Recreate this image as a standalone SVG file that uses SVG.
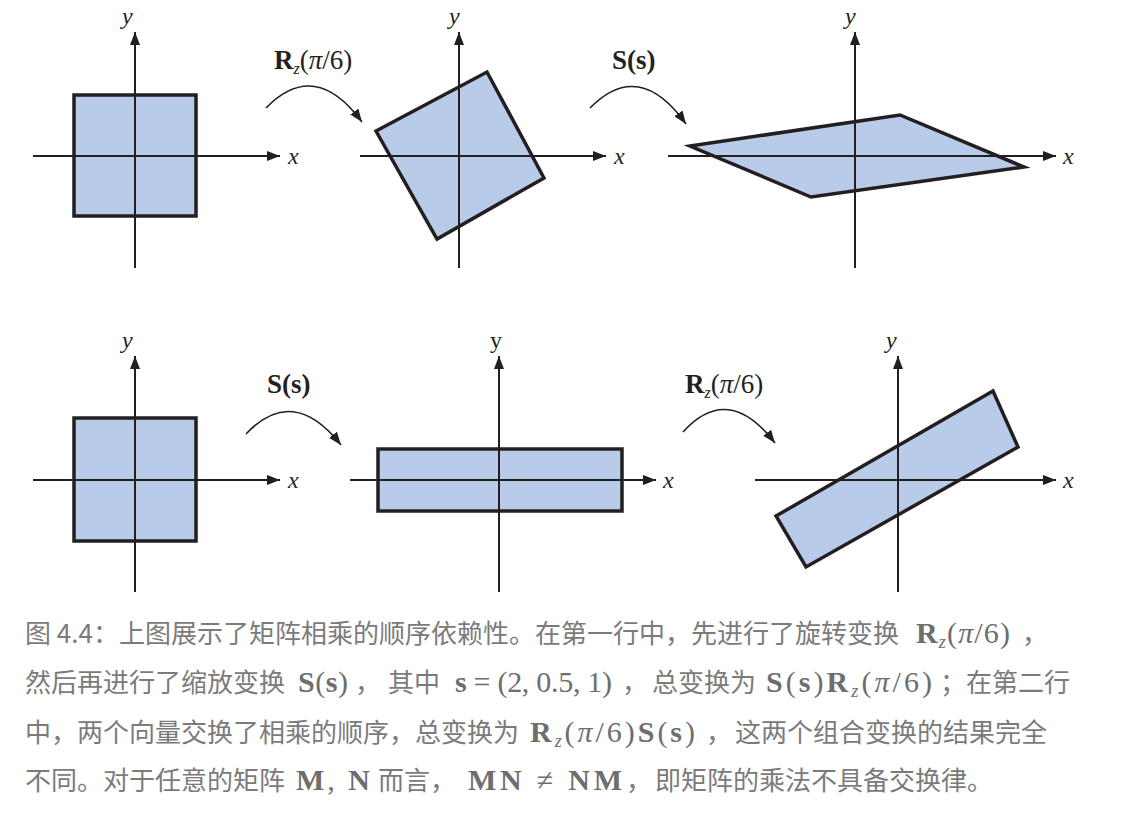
<svg xmlns="http://www.w3.org/2000/svg" width="1132" height="815" viewBox="0 0 1132 815">
<style>
.axis{stroke:#231f20;stroke-width:2;fill:none}
.shape{fill:#b8cbe8;stroke:#231f20;stroke-width:3.5;stroke-linejoin:miter}
.curve{stroke:#231f20;stroke-width:1.6;fill:none}
.lab{font-family:"Liberation Serif","Times New Roman",serif;font-size:27px;fill:#231f20}
.yl{font-family:"Liberation Serif","Times New Roman",serif;font-size:24px;fill:#231f20}
.ax{font-family:"Liberation Serif","Times New Roman",serif;font-size:24px;font-style:italic;fill:#231f20}
.cap{font-family:"Noto Sans CJK SC","Noto Sans",sans-serif;font-size:26px;fill:#7b7b7b}
.m{font-family:"Liberation Serif","Times New Roman",serif;font-size:30px;fill:#6e6e6e}
.b{font-weight:bold}
.i{font-style:italic}
</style>
<defs>
<marker id="ah" markerUnits="userSpaceOnUse" markerWidth="14" markerHeight="10" refX="13" refY="5" orient="auto">
<path d="M0,0 L13,5 L0,10 z" fill="#231f20"/>
</marker>
<marker id="ch" markerUnits="userSpaceOnUse" markerWidth="14" markerHeight="10" refX="13" refY="5" orient="auto">
<path d="M0,0 L13,5 L0,10 z" fill="#231f20"/>
</marker>
</defs>
<rect width="1132" height="815" fill="#ffffff"/>

<g id="panel1">
<rect class="shape" x="74" y="95" width="122" height="121"/>
<line class="axis" x1="135" y1="268" x2="135" y2="32" marker-end="url(#ah)"/>
<line class="axis" x1="33" y1="156" x2="280" y2="156" marker-end="url(#ah)"/>
<text class="ax" x="122" y="24">y</text>
<text class="ax" x="288" y="164">x</text>
</g>

<g id="panel2">
<polygon class="shape" points="376,131 487,72 544,178 437,239"/>
<line class="axis" x1="459" y1="268" x2="459" y2="32" marker-end="url(#ah)"/>
<line class="axis" x1="360" y1="156" x2="606" y2="156" marker-end="url(#ah)"/>
<text class="ax" x="449" y="24">y</text>
<text class="ax" x="614" y="164">x</text>
</g>

<g id="panel3">
<polygon class="shape" points="690,146 900,115 1024,167 811,197"/>
<line class="axis" x1="855" y1="268" x2="855" y2="32" marker-end="url(#ah)"/>
<line class="axis" x1="668" y1="156" x2="1056" y2="156" marker-end="url(#ah)"/>
<text class="ax" x="845" y="24">y</text>
<text class="ax" x="1063" y="164">x</text>
</g>

<g id="panel4">
<rect class="shape" x="74" y="418" width="122" height="123"/>
<line class="axis" x1="135" y1="592" x2="135" y2="356" marker-end="url(#ah)"/>
<line class="axis" x1="33" y1="480" x2="280" y2="480" marker-end="url(#ah)"/>
<text class="ax" x="122" y="348">y</text>
<text class="ax" x="288" y="488">x</text>
</g>

<g id="panel5">
<rect class="shape" x="378" y="449" width="244" height="62"/>
<line class="axis" x1="499" y1="592" x2="499" y2="356" marker-end="url(#ah)"/>
<line class="axis" x1="350" y1="480" x2="656" y2="480" marker-end="url(#ah)"/>
<text class="yl" x="490" y="348">y</text>
<text class="ax" x="663" y="488">x</text>
</g>

<g id="panel6">
<polygon class="shape" points="776,516 993,391 1018,447 806,567"/>
<line class="axis" x1="898" y1="592" x2="898" y2="356" marker-end="url(#ah)"/>
<line class="axis" x1="755" y1="480" x2="1056" y2="480" marker-end="url(#ah)"/>
<text class="ax" x="886" y="348">y</text>
<text class="ax" x="1063" y="488">x</text>
</g>

<g id="connectors">
<path class="curve" d="M266,108 Q315,58 362,122" marker-end="url(#ch)"/>
<path class="curve" d="M590,108 Q639,58 686,124" marker-end="url(#ch)"/>
<path class="curve" d="M246,434 Q293,384 341,445" marker-end="url(#ch)"/>
<path class="curve" d="M683,432 Q728,382 775,443" marker-end="url(#ch)"/>
<text class="lab" x="274" y="69"><tspan class="b">R</tspan><tspan class="i" font-size="16" dy="5">z</tspan><tspan dy="-5">(</tspan><tspan class="i">π</tspan>/6)</text>
<text class="lab" x="612" y="69"><tspan class="b">S(s)</tspan></text>
<text class="lab" x="267" y="393"><tspan class="b">S(s)</tspan></text>
<text class="lab" x="685" y="393"><tspan class="b">R</tspan><tspan class="i" font-size="16" dy="5">z</tspan><tspan dy="-5">(</tspan><tspan class="i">π</tspan>/6)</text>
</g>

<g id="caption">
<text class="cap" x="25" y="643">图 4.4：上图展示了矩阵相乘的顺序依赖性。在第一行中，先进行了旋转变换</text>
<text class="m" x="916" y="643" textLength="94" lengthAdjust="spacing"><tspan class="b">R</tspan><tspan class="i" font-size="18" dy="5">z</tspan><tspan dy="-5">(</tspan><tspan class="i">π</tspan>/6)</text>
<text class="cap" x="1022" y="643">，</text>

<text class="cap" x="25" y="692">然后再进行了缩放变换</text>
<text class="m" x="298" y="692" textLength="50" lengthAdjust="spacing"><tspan class="b">S</tspan>(<tspan class="b">s</tspan>)</text>
<text class="cap" x="355" y="692">，</text>
<text class="cap" x="388" y="692">其中</text>
<text class="m" x="455" y="692" textLength="157" lengthAdjust="spacing"><tspan class="b">s</tspan> = (2, 0.5, 1)</text>
<text class="cap" x="622" y="692">，</text>
<text class="cap" x="652" y="692">总变换为</text>
<text class="m" x="766" y="692" textLength="166" lengthAdjust="spacing"><tspan class="b">S</tspan>(<tspan class="b">s</tspan>)<tspan class="b">R</tspan><tspan class="i" font-size="18" dy="5">z</tspan><tspan dy="-5">(</tspan><tspan class="i">π</tspan>/6)</text>
<text class="cap" x="940" y="692">；</text>
<text class="cap" x="966" y="692">在第二行</text>

<text class="cap" x="25" y="742">中，两个向量交换了相乘的顺序，总变换为</text>
<text class="m" x="530" y="742" textLength="165" lengthAdjust="spacing"><tspan class="b">R</tspan><tspan class="i" font-size="18" dy="5">z</tspan><tspan dy="-5">(</tspan><tspan class="i">π</tspan>/6)<tspan class="b">S</tspan>(<tspan class="b">s</tspan>)</text>
<text class="cap" x="706" y="742">，</text>
<text class="cap" x="735" y="742">这两个组合变换的结果完全</text>

<text class="cap" x="25" y="790">不同。对于任意的矩阵</text>
<text class="m" x="296" y="790" textLength="74" lengthAdjust="spacing"><tspan class="b">M</tspan>, <tspan class="b">N</tspan></text>
<text class="cap" x="378" y="790">而言，</text>
<text class="m" x="468" y="790" textLength="154" lengthAdjust="spacing"><tspan class="b">MN</tspan> ≠ <tspan class="b">NM</tspan></text>
<text class="cap" x="626" y="790">，</text>
<text class="cap" x="655" y="790">即矩阵的乘法不具备交换律。</text>
</g>
</svg>
